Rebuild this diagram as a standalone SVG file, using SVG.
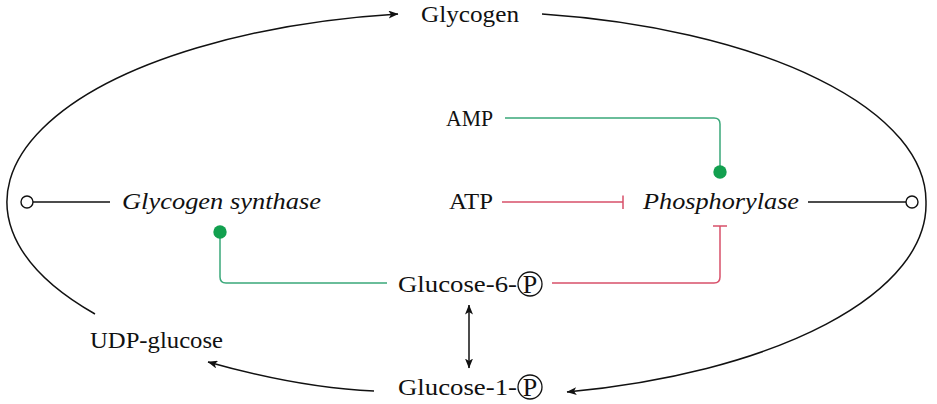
<svg xmlns="http://www.w3.org/2000/svg" width="937" height="404" viewBox="0 0 937 404">
<style>
text{font-family:"Liberation Serif","DejaVu Serif",serif;font-size:24px;fill:#111}
.it{font-style:italic}
.p{font-size:26px}
.blk{fill:none;stroke:#111;stroke-width:1.5}
.grn{fill:none;stroke:#3aa87a;stroke-width:1.5}
.red{fill:none;stroke:#d8506a;stroke-width:1.5}
.dot{fill:#12a04f}
.oc{fill:#fff;stroke:#111;stroke-width:1.4}
.pc{fill:none;stroke:#111;stroke-width:1.3}
</style>
<defs>
<marker id="arr" viewBox="0 0 10 8" refX="9.5" refY="4" markerWidth="10" markerHeight="8" markerUnits="userSpaceOnUse" orient="auto-start-reverse">
<path d="M0,0 L10,4 L0,8 L2.5,4 z" fill="#111"/>
</marker>
</defs>
<g id="connectors">
<path class="blk" d="M95 314 A458 190 0 0 1 398 14" marker-end="url(#arr)"/>
<path class="blk" d="M542 14 A458 190 0 0 1 926 203 A458 192 0 0 1 567 392" marker-end="url(#arr)"/>
<path class="blk" d="M374 391 Q300 388 208 362" marker-end="url(#arr)"/>
<path class="blk" d="M469 305 L469 368" marker-start="url(#arr)" marker-end="url(#arr)"/>
<path class="blk" d="M110 202 L33 202"/>
<circle class="oc" cx="27" cy="202" r="6"/>
<path class="blk" d="M808 202 L906 202"/>
<circle class="oc" cx="912" cy="202" r="6"/>
<path class="grn" d="M505 118 L714 118 Q720 118 720 124 L720 166"/>
<circle class="dot" cx="720" cy="172" r="6.7"/>
<path class="red" d="M502 202 L623 202 M623 195.5 L623 209"/>
<path class="red" d="M552 283 L714 283 Q720 283 720 277 L720 226 M713 226 L727 226"/>
<path class="grn" d="M387 283 L226 283 Q220 283 220 277 L220 238"/>
<circle class="dot" cx="220" cy="232" r="6.7"/>
</g>
<g id="glycogen"><text x="421" y="22" textLength="98" lengthAdjust="spacingAndGlyphs">Glycogen</text></g>
<g id="amp"><text x="446" y="126" textLength="47" lengthAdjust="spacingAndGlyphs">AMP</text></g>
<g id="atp"><text x="449" y="209" textLength="44" lengthAdjust="spacingAndGlyphs">ATP</text></g>
<g id="glycogen-synthase"><text class="it" x="122" y="209" textLength="199" lengthAdjust="spacingAndGlyphs">Glycogen synthase</text></g>
<g id="phosphorylase"><text class="it" x="643" y="209" textLength="156" lengthAdjust="spacingAndGlyphs">Phosphorylase</text></g>
<g id="glucose-6-p"><text x="398" y="292" textLength="119" lengthAdjust="spacingAndGlyphs">Glucose-6-</text><circle class="pc" cx="530" cy="284" r="12"/><text class="p" x="530" y="293" text-anchor="middle">P</text></g>
<g id="glucose-1-p"><text x="398" y="395" textLength="119" lengthAdjust="spacingAndGlyphs">Glucose-1-</text><circle class="pc" cx="530" cy="387" r="12"/><text class="p" x="530" y="396" text-anchor="middle">P</text></g>
<g id="udp-glucose"><text x="90" y="348" textLength="133" lengthAdjust="spacingAndGlyphs">UDP-glucose</text></g>
</svg>
